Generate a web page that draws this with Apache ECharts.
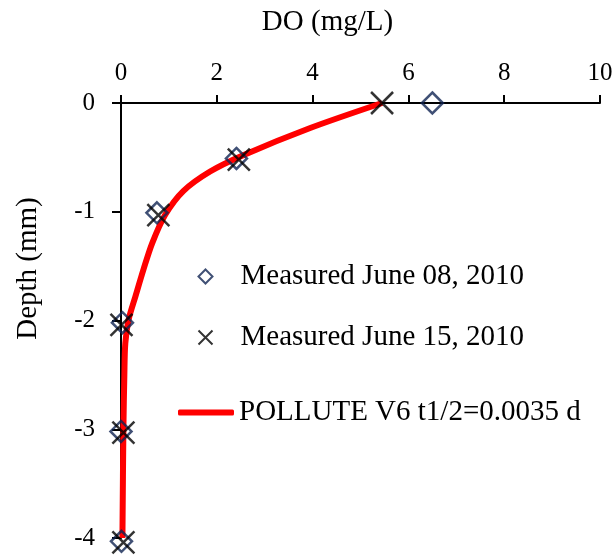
<!DOCTYPE html>
<html>
<head>
<meta charset="utf-8">
<script src="https://cdn.jsdelivr.net/npm/echarts@6/dist/echarts.min.js"></script>
<style>
  html, body { margin: 0; padding: 0; background: #fff; }
  #chart { width: 616px; height: 556px; }
</style>
</head>
<body>
<div id="chart"></div>
<script>
// Data
const depthJune08 = [0, -0.51, -1.01, -2.02, -3.02, -4.03];
const doJune08 = [6.5, 2.41, 0.75, 0.03, 0.0, 0.01];

const depthJune15 = [0, -0.52, -1.03, -2.04, -3.03, -4.04];
const doJune15 = [5.45, 2.46, 0.78, 0.01, 0.05, 0.05];

// POLLUTE V6 model curve (traced)
const modelDepth = [0, -0.23, -0.48, -0.63, -0.81, -1.03, -1.29, -1.53, -1.78, -1.99, -2.21, -2.5, -3.0, -4.0];
const modelDO = [5.45, 3.95, 2.55, 1.86, 1.3, 0.92, 0.65, 0.47, 0.3, 0.16, 0.09, 0.07, 0.05, 0.03];

const FONT = "'Liberation Serif', 'Times New Roman', serif";
const CROSS = 'path://M0,0L20,20M20,0L0,20';
const DIAMOND = 'path://M10,0L20,10L10,20L0,10Z';

function pairs(xs, ys) {
    return xs.map((x, i) => [x, ys[i]]);
}

const chart = echarts.init(document.getElementById('chart'), null, { renderer: 'canvas' });

const legendBase = {
    orient: 'vertical',
    padding: 0,
    itemHeight: 14,
    symbolKeepAspect: true,
    textStyle: { fontFamily: FONT, fontSize: 29, color: '#000' }
};

const option = {
    backgroundColor: '#fff',
    animation: false,
    grid: { left: 121, right: 16, top: 103, bottom: 18 },
    xAxis: {
        type: 'value',
        position: 'top',
        min: 0,
        max: 10,
        interval: 2,
        name: 'DO (mg/L)',
        nameLocation: 'middle',
        nameGap: 66,
        nameTextStyle: { fontFamily: FONT, fontSize: 29, color: '#000', padding: [0, 66, 0, 0] },
        axisLine: { lineStyle: { color: '#000', width: 2 } },
        axisTick: { length: 8, lineStyle: { color: '#000', width: 2 } },
        axisLabel: { fontFamily: FONT, fontSize: 25, color: '#000', margin: 17 },
        splitLine: { show: false }
    },
    yAxis: {
        type: 'value',
        min: -4,
        max: 0,
        interval: 1,
        name: 'Depth (mm)',
        nameLocation: 'middle',
        nameGap: 78,
        nameTextStyle: { fontFamily: FONT, fontSize: 29, color: '#000', padding: [0, 0, 0, 104] },
        axisLine: { lineStyle: { color: '#000', width: 2 } },
        axisTick: { length: 9, lineStyle: { color: '#000', width: 2 } },
        axisLabel: { fontFamily: FONT, fontSize: 25, color: '#000', margin: 26 },
        splitLine: { show: false }
    },
    legend: [
        Object.assign({}, legendBase, { left: 196, top: 262, itemWidth: 60, data: ['Measured June 08, 2010'] }),
        Object.assign({}, legendBase, { left: 196, top: 323, itemWidth: 60, data: ['Measured June 15, 2010'] }),
        Object.assign({}, legendBase, {
            left: 178, top: 398, itemWidth: 56, itemHeight: 6,
            data: [{ name: 'POLLUTE V6 t1/2=0.0035 d', icon: 'roundRect' }]
        })
    ],
    series: [
        {
            name: 'POLLUTE V6 t1/2=0.0035 d',
            type: 'line',
            symbol: 'none',
            smooth: 0.3,
            lineStyle: { color: '#ff0000', width: 6 },
            itemStyle: { color: '#ff0000' },
            data: pairs(modelDO, modelDepth),
            z: 2
        },
        {
            name: 'Measured June 08, 2010',
            type: 'scatter',
            symbol: DIAMOND,
            symbolSize: 21,
            symbolKeepAspect: true,
            clip: false,
            itemStyle: { color: 'none', borderColor: '#102452', borderWidth: 2.5 },
            data: pairs(doJune08, depthJune08),
            z: 3
        },
        {
            name: 'Measured June 15, 2010',
            type: 'scatter',
            symbol: CROSS,
            symbolSize: 22,
            symbolKeepAspect: true,
            clip: false,
            itemStyle: { color: 'none', borderColor: '#000', borderWidth: 2.5 },
            data: pairs(doJune15, depthJune15),
            z: 4
        }
    ]
};

chart.setOption(option);
</script>
</body>
</html>
